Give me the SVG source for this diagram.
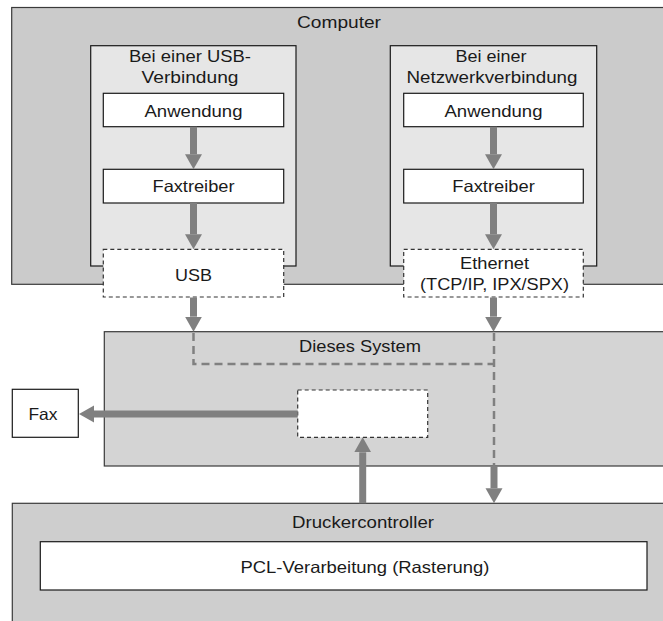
<svg xmlns="http://www.w3.org/2000/svg" width="663" height="621" viewBox="0 0 663 621">
  <defs>
    <style>
      text { font-family: "Liberation Sans", Arial, Helvetica, sans-serif; font-size: 16.5px; fill: #1a1a1a; text-anchor: middle; }
      .outer { stroke: #3a3a3a; stroke-width: 1.2; }
      .section { fill: #e6e6e6; stroke: #1a1a1a; stroke-width: 1.2; }
      .box { fill: #ffffff; stroke: #1a1a1a; stroke-width: 1.2; }
      .dashbox { fill: #ffffff; stroke: #333333; stroke-width: 1.2; stroke-dasharray: 4 3; }
      .flow { stroke: #808080; stroke-width: 7; fill: none; marker-end: url(#head); }
      .route { stroke: #808080; stroke-width: 2.5; fill: none; stroke-dasharray: 8 5; }
    </style>
    <marker id="head" markerUnits="userSpaceOnUse" markerWidth="16" markerHeight="18" refX="0" refY="8.5" orient="auto">
      <path d="M0,0 L15,8.5 L0,17 Z" fill="#808080"/>
    </marker>
  </defs>

  <!-- Computer -->
  <g id="computer">
    <rect class="outer" x="11.7" y="7.5" width="700" height="276.8" fill="#cbcbcb"/>
    <text x="339" y="28" textLength="84" lengthAdjust="spacingAndGlyphs">Computer</text>
  </g>

  <!-- USB connection column -->
  <g id="usb-section">
    <rect class="section" x="90.7" y="45.7" width="205.3" height="220.3"/>
    <text x="190" y="62" textLength="122" lengthAdjust="spacingAndGlyphs">Bei einer USB-</text>
    <text x="190" y="83" textLength="97" lengthAdjust="spacingAndGlyphs">Verbindung</text>
  </g>
  <g id="usb-app">
    <rect class="box" x="103.3" y="93.3" width="180.4" height="33.4"/>
    <text x="193.5" y="117" textLength="98" lengthAdjust="spacingAndGlyphs">Anwendung</text>
  </g>
  <g id="usb-driver">
    <rect class="box" x="103.3" y="169.3" width="180.4" height="33.7"/>
    <text x="193.5" y="192" textLength="82" lengthAdjust="spacingAndGlyphs">Faxtreiber</text>
  </g>
  <g id="usb-port">
    <rect class="dashbox" x="103.3" y="249.3" width="180.4" height="47.7"/>
    <text x="193.5" y="281" textLength="37" lengthAdjust="spacingAndGlyphs">USB</text>
  </g>

  <!-- Network connection column -->
  <g id="net-section">
    <rect class="section" x="390.3" y="45.7" width="206.4" height="220.3"/>
    <text x="491" y="62" textLength="71" lengthAdjust="spacingAndGlyphs">Bei einer</text>
    <text x="492" y="83" textLength="171" lengthAdjust="spacingAndGlyphs">Netzwerkverbindung</text>
  </g>
  <g id="net-app">
    <rect class="box" x="403.7" y="93.3" width="179.6" height="33.4"/>
    <text x="493.5" y="117" textLength="98" lengthAdjust="spacingAndGlyphs">Anwendung</text>
  </g>
  <g id="net-driver">
    <rect class="box" x="403.7" y="169.3" width="179.6" height="33.7"/>
    <text x="493.5" y="192" textLength="82.5" lengthAdjust="spacingAndGlyphs">Faxtreiber</text>
  </g>
  <g id="net-port">
    <rect class="dashbox" x="403.7" y="249.3" width="179.6" height="47.7"/>
    <text x="494.5" y="268.5" textLength="69" lengthAdjust="spacingAndGlyphs">Ethernet</text>
    <text x="494.5" y="290" textLength="149" lengthAdjust="spacingAndGlyphs">(TCP/IP, IPX/SPX)</text>
  </g>

  <!-- This system -->
  <g id="system">
    <rect class="outer" x="104.3" y="331.7" width="700" height="134.3" fill="#d4d4d4"/>
    <text x="360" y="352" textLength="122" lengthAdjust="spacingAndGlyphs">Dieses System</text>
  </g>
  <g id="fax-unit">
    <rect class="dashbox" x="297.7" y="390" width="130" height="47.3"/>
  </g>
  <g id="fax">
    <rect class="box" x="12.3" y="389.3" width="66" height="48"/>
    <text x="43" y="420" textLength="29" lengthAdjust="spacingAndGlyphs">Fax</text>
  </g>

  <!-- Printer controller -->
  <g id="controller">
    <rect class="outer" x="12.3" y="503.3" width="700" height="200" fill="#cecece"/>
    <text x="363" y="527.5" textLength="142" lengthAdjust="spacingAndGlyphs">Druckercontroller</text>
  </g>
  <g id="pcl">
    <rect class="box" x="40.3" y="541.7" width="606.7" height="48.3"/>
    <text x="365" y="572.5" textLength="249" lengthAdjust="spacingAndGlyphs">PCL-Verarbeitung (Rasterung)</text>
  </g>

  <!-- Connectors -->
  <g id="connectors">
    <path class="route" d="M193.5,333 V364 H494"/>
    <path class="route" d="M494,333 V466"/>
    <line class="flow" x1="193.5" y1="126.7" x2="193.5" y2="154.3"/>
    <line class="flow" x1="193.5" y1="203" x2="193.5" y2="234.3"/>
    <line class="flow" x1="193.5" y1="297.5" x2="193.5" y2="316.7"/>
    <line class="flow" x1="493.5" y1="126.7" x2="493.5" y2="154.3"/>
    <line class="flow" x1="493.5" y1="203" x2="493.5" y2="234.3"/>
    <line class="flow" x1="493.5" y1="297.5" x2="493.5" y2="316.7"/>
    <line class="flow" x1="297.7" y1="414" x2="94" y2="414"/>
    <line class="flow" x1="362.7" y1="503.3" x2="362.7" y2="452.3"/>
    <line class="flow" x1="494" y1="466" x2="494" y2="488.3"/>
  </g>
</svg>
